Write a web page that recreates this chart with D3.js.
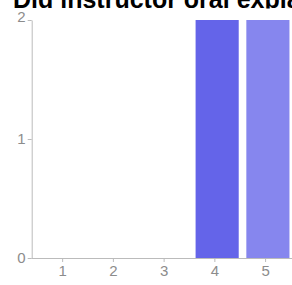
<!DOCTYPE html>
<meta charset="utf-8">
<style>
body { margin: 0; font-family: Arial; background: #fff; }
.axis path, .axis line { fill: none; stroke: #bbb; }
.axis text { fill: #8c8c8c; font-family: Arial; font-size: 15px; }
</style>
<body>
<svg width="292" height="285"></svg>
<script src="https://d3js.org/d3.v7.min.js"></script>
<script>
var categories = [1, 2, 3, 4, 5];
var counts = [0, 0, 0, 2, 2];
var barColors = ["#6464e9", "#6464e9", "#6464e9", "#6464e9", "#8686ee"];
var yTicks = [0, 1, 2];
var title = "Did instructor oral explanation help you understand the material?";

var svg = d3.select("svg");

var x = d3.scaleLinear()
    .domain([0.4, 5.4])
    .range([31.7, 285.4]);
var y = d3.scaleLinear()
    .domain([0, 2])
    .range([258, 20]);

// title is cut by the chart box
svg.append("clipPath").attr("id", "titleclip")
    .append("rect").attr("x", 0).attr("y", 0).attr("width", 292).attr("height", 8.5);

svg.append("text")
    .attr("clip-path", "url(#titleclip)")
    .attr("x", 13)
    .attr("y", 7.5)
    .attr("font-family", "Arial")
    .attr("font-weight", "bold")
    .attr("font-size", "25px")
    .attr("fill", "#000")
    .text(title);

svg.selectAll("rect.bar")
    .data(categories)
    .enter().append("rect")
    .attr("class", "bar")
    .attr("x", function (d) { return x(d - 0.37); })
    .attr("width", function (d) { return x(d + 0.48) - x(d - 0.37); })
    .attr("y", function (d, i) { return y(counts[i]); })
    .attr("height", function (d, i) { return y(0) - y(counts[i]); })
    .attr("fill", function (d, i) { return barColors[i]; });

var yAxis = svg.append("g")
    .attr("class", "y axis")
    .attr("transform", "translate(" + x(0.4) + ",0)")
    .call(d3.axisLeft(y).tickValues(yTicks).tickSize(4).tickSizeOuter(0).tickPadding(2)
        .tickFormat(d3.format("d")));
// top label sits a little higher than its tick
yAxis.selectAll(".tick text").filter(function (d) { return d === 2; }).attr("dy", "0.08em");

svg.append("g")
    .attr("class", "x axis")
    .attr("transform", "translate(0," + y(0) + ")")
    .call(d3.axisBottom(x).tickValues(categories).tickSize(4).tickSizeOuter(0).tickPadding(3)
        .tickFormat(d3.format("d")));

svg.select(".x.axis .domain").attr("d", "M" + x(0.4) + ",0.5H292");
</script>
</body>
</html>
